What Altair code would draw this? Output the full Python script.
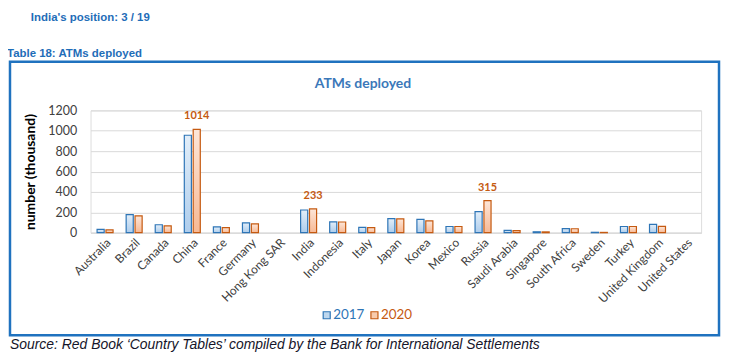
import altair as alt
import pandas as pd

# ---- data ----
countries = ["Australia", "Brazil", "Canada", "China", "France", "Germany",
             "Hong Kong SAR", "India", "Indonesia", "Italy", "Japan", "Korea",
             "Mexico", "Russia", "Saudi Arabia", "Singapore", "South Africa",
             "Sweden", "Turkey", "United Kingdom", "United States"]
atm_2017 = [33, 178, 78, 956, 58, 97, None, 223, 107, 52, 138, 130, 61, 207,
            22, 9, 40, 4, 61, 81, None]
atm_2020 = [27, 166, 68, 1014, 50, 86, None, 233, 105, 50, 136, 117, 61, 315,
            20, 8, 39, 3, 61, 62, None]
years = ["2017", "2020"]
labelled_countries = ["China", "India", "Russia"]
y_ticks = [0, 200, 400, 600, 800, 1000, 1200]

heading = "India's position: 3 / 19"
table_title = "Table 18: ATMs deployed"
chart_title = "ATMs deployed"
y_title = "number (thousand)"
source = "Source: Red Book \u2018Country Tables\u2019 compiled by the Bank for International Settlements"

BLUE = "#2E75B6"
ORANGE = "#C55A11"
FRAME = "#1F72BF"
HEAD = "#1F6DB8"

rows = []
for c, a, b in zip(countries, atm_2017, atm_2020):
    rows.append({"country": c, "year": "2017", "value": a})
    rows.append({"country": c, "year": "2020", "value": b})
df = pd.DataFrame(rows)

base = alt.Chart(df).encode(
    x=alt.X("country:N", sort=countries,
            scale=alt.Scale(domain=countries, paddingInner=0.45, paddingOuter=0.225),
            axis=alt.Axis(title=None, labelAngle=-45, ticks=False, grid=False,
                          domainColor="#D9D9D9", labelFont="Lato", labelFontSize=12,
                          labelColor="#404040", labelPadding=4)),
    xOffset=alt.XOffset("year:N", scale=alt.Scale(domain=years, paddingInner=0.2)),
    y=alt.Y("value:Q", scale=alt.Scale(domain=[0, 1200]),
            axis=alt.Axis(values=y_ticks, format="d", grid=True, gridColor="#D9D9D9",
                          domain=False, ticks=False, labelPadding=14, labelFont="Lato",
                          labelFontSize=12.5, labelColor="#404040",
                          title=y_title, titleFont="Lato", titleFontSize=14,
                          titleFontWeight="bold", titleColor="black", titlePadding=10)),
)

grad_blue = alt.Gradient(gradient="linear", x1=0, x2=0, y1=0, y2=1,
                         stops=[alt.GradientStop(color="#E2EEF9", offset=0),
                                alt.GradientStop(color="#AECDEC", offset=1)])
grad_orange = alt.Gradient(gradient="linear", x1=0, x2=0, y1=0, y2=1,
                           stops=[alt.GradientStop(color="#FDE6D8", offset=0),
                                  alt.GradientStop(color="#F7B995", offset=1)])

bars17 = base.transform_filter("datum.year == '2017'").mark_bar(
    fill=grad_blue, stroke=BLUE, strokeWidth=1.2)
bars20 = base.transform_filter("datum.year == '2020'").mark_bar(
    fill=grad_orange, stroke=ORANGE, strokeWidth=1.2)

labels = base.transform_filter("datum.year == '2020'").transform_filter(
    alt.FieldOneOfPredicate(field="country", oneOf=labelled_countries)
).mark_text(dy=-8, baseline="bottom", font="Lato", fontWeight="bold",
            fontSize=11, color=ORANGE).encode(text="value:Q")

one = pd.DataFrame({"k": [0]})

frame = alt.Chart(one).mark_rect(fillOpacity=0, stroke=FRAME, strokeWidth=2.5).encode(
    x=alt.value(-81), x2=alt.value(632), y=alt.value(-49), y2=alt.value(226))


def text_layer(txt, x, y, **kw):
    return alt.Chart(pd.DataFrame({"t": [txt]})).mark_text(
        align=kw.pop("align", "left"), baseline="middle", **kw).encode(
        text="t:N", x=alt.value(x), y=alt.value(y))


t_head = text_layer(heading, -60, -93, font="Liberation Sans", fontSize=11.5,
                    fontWeight="bold", color=HEAD)
t_table = text_layer(table_title, -84, -57, font="Liberation Sans", fontSize=11.5,
                     fontWeight="bold", color=HEAD)
t_title = text_layer(chart_title, 274, -27, align="center", font="Lato", fontSize=14,
                     fontWeight="bold", color="#3B78B9")
t_source = text_layer(source, -81, 236, font="Liberation Sans", fontSize=14,
                      fontStyle="italic", color="#15152a")

leg_items = []
for yr, col, fillc, sx in [("2017", BLUE, "#BDD7EE", 237.5), ("2020", ORANGE, "#F8CBAD", 285.5)]:
    leg_items.append(alt.Chart(pd.DataFrame({"year": [yr]})).mark_square(
        size=50, fill=fillc, stroke=col, strokeWidth=1.2, fillOpacity=1).encode(
        x=alt.value(sx), y=alt.value(206)))
    leg_items.append(alt.Chart(pd.DataFrame({"year": [yr]})).mark_text(
        align="left", baseline="middle", font="Lato", fontSize=13.5, color=col).encode(
        text="year:N", x=alt.value(sx + 6.5), y=alt.value(206)))

chart = alt.layer(frame, bars17, bars20, labels, t_head, t_table, t_title, t_source,
                  *leg_items).properties(
    width=614, height=123,
    autosize=alt.AutoSizeParams(type="none"),
    padding={"left": 83, "top": 102, "right": 20, "bottom": 121},
).configure_view(stroke=None).configure(background="white")

chart.save("out.html", embed_options={"renderer": "svg", "actions": False})
